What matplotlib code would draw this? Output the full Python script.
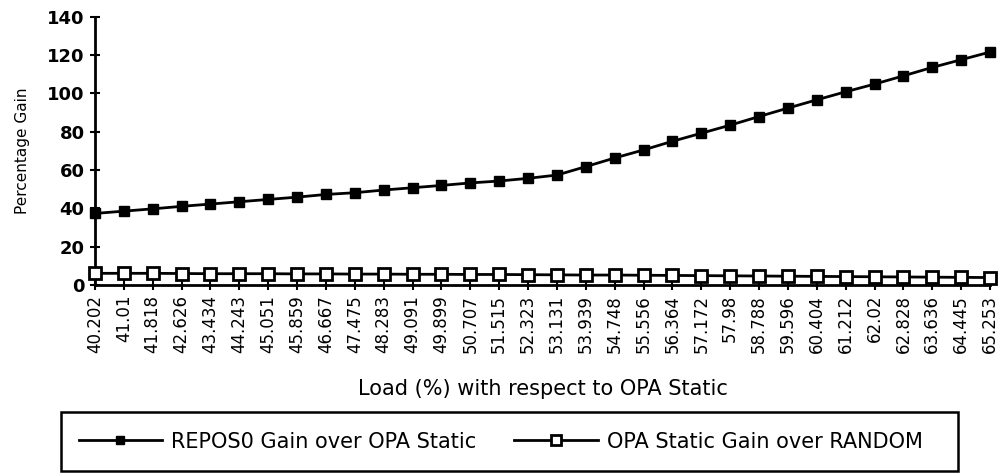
import matplotlib
matplotlib.use("Agg")
import matplotlib.pyplot as plt
from matplotlib.patches import Rectangle

loads = ["40.202", "41.01", "41.818", "42.626", "43.434", "44.243", "45.051", "45.859",
         "46.667", "47.475", "48.283", "49.091", "49.899", "50.707", "51.515", "52.323",
         "53.131", "53.939", "54.748", "55.556", "56.364", "57.172", "57.98", "58.788",
         "59.596", "60.404", "61.212", "62.02", "62.828", "63.636", "64.445", "65.253"]
repos_gain = [37.4, 38.6, 39.8, 41.1, 42.3, 43.5, 44.7, 45.9, 47.3, 48.2, 49.6, 50.8,
              52.0, 53.3, 54.3, 55.7, 57.4, 61.8, 66.3, 70.5, 75.0, 79.2, 83.4, 87.9,
              92.3, 96.6, 100.8, 104.8, 109.1, 113.5, 117.5, 121.5]
opa_gain = [6.2, 6.2, 6.2, 6.1, 6.0, 6.0, 6.0, 5.9, 5.9, 5.8, 5.8, 5.7, 5.7, 5.6, 5.6, 5.5,
            5.4, 5.3, 5.3, 5.2, 5.1, 5.0, 4.9, 4.8, 4.7, 4.6, 4.5, 4.4, 4.3, 4.2, 4.1, 4.0]
yticks = [0, 20, 40, 60, 80, 100, 120, 140]

plt.rcParams['font.family'] = ['DejaVu Sans']
fig = plt.figure(figsize=(10, 4.73), dpi=100)
ax = fig.add_axes([0.095, 0.397, 0.895, 0.568])
x = list(range(len(loads)))
ax.plot(x, repos_gain, color='black', lw=2, marker='s', ms=7, mfc='black', mec='black',
        label='REPOS0 Gain over OPA Static', clip_on=False, zorder=3)
ax.plot(x, opa_gain, color='black', lw=2, marker='s', ms=9, mfc='white', mec='black', mew=2,
        label='OPA Static Gain over RANDOM', clip_on=False, zorder=3)
ax.set_xlim(0, len(loads) - 1)
ax.set_ylim(0, 140)
ax.set_yticks(yticks)
ax.set_yticklabels([str(v) for v in yticks], fontsize=13, fontweight='bold')
ax.set_xticks(x)
ax.set_xticklabels(loads, rotation=90, fontsize=12)
for s in ['top', 'right']:
    ax.spines[s].set_visible(False)
for s in ['left', 'bottom']:
    ax.spines[s].set_linewidth(2)
ax.tick_params(axis='both', direction='inout', length=7, width=1.5)
ax.tick_params(axis='y', pad=4)
ax.set_ylabel('Percentage Gain', fontsize=11, labelpad=12)
ax.set_xlabel('Load (%) with respect to OPA Static', fontsize=15)
ax.xaxis.set_label_coords(0.5, (0.178 - 0.397) / 0.568, transform=ax.transAxes)
ax.xaxis.label.set_va('center')

fig.patches.append(Rectangle((0.061, 0.004), 0.897, 0.125, transform=fig.transFigure,
                             fill=False, edgecolor='black', lw=1.8))
leg = fig.legend(loc='center left', bbox_to_anchor=(0.060, 0.066), ncol=2, frameon=False,
                 fontsize=15, handlelength=4.0, columnspacing=1.8, handletextpad=0.45,
                 markerscale=0.75)
fig.savefig('out.png', dpi=100)
